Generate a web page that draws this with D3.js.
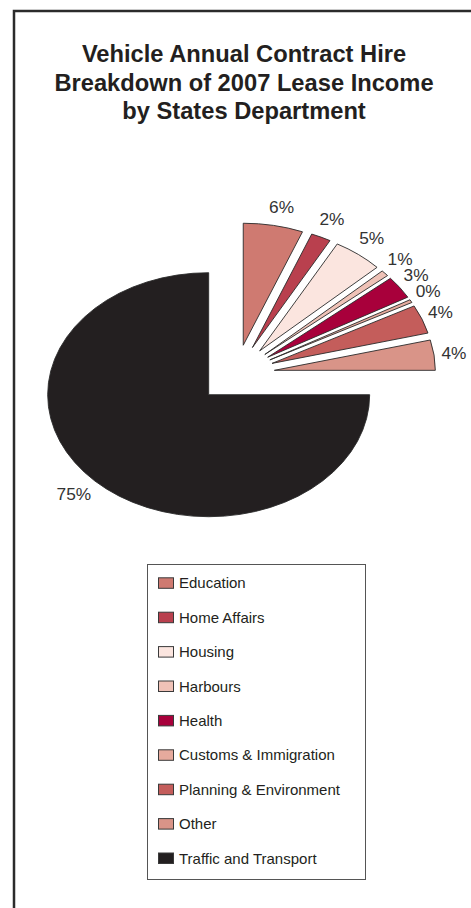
<!DOCTYPE html>
<html>
<head>
<meta charset="utf-8">
<script src="https://cdn.jsdelivr.net/npm/d3@7"></script>
<style>
  html, body { margin: 0; padding: 0; background: #fff; }
  svg { display: block; font-family: "Liberation Sans", Arial, Helvetica, sans-serif; }
</style>
</head>
<body>
<svg id="chart" width="471" height="908"></svg>
<script>
// ---- Data ----
const titleLines = ["Vehicle Annual Contract Hire", "Breakdown of 2007 Lease Income", "by States Department"];
const categories = ["Education", "Home Affairs", "Housing", "Harbours", "Health",
  "Customs & Immigration", "Planning & Environment", "Other", "Traffic and Transport"];
const values = [6.0, 2.0, 5.0, 0.8, 3.0, 0.4, 3.8, 4.0, 75.0];
const colors = ["#cf7a71", "#b9404e", "#fbe5df", "#efc2b7", "#a8003b",
  "#e6aa9d", "#c45d5b", "#d99488", "#231f20"];

// ---- Layout ----
const svg = d3.select("#chart");
const W = 471, H = 908;
const ink = "#231f20";

// frame (left and top rules)
svg.append("path")
  .attr("d", `M14,${H} L14,11 L${W},11`)
  .attr("fill", "none").attr("stroke", "#2b2b2b").attr("stroke-width", 2.5);

// title
const title = svg.append("text")
  .attr("x", 244).attr("y", 62)
  .attr("text-anchor", "middle")
  .attr("font-weight", "bold").attr("font-size", 23.7).attr("fill", ink);
titleLines.forEach((t, i) => title.append("tspan").attr("x", 244).attr("dy", i === 0 ? 0 : 28.5).text(t));

// pie
const cx = 236, cy = 374, rx = 161, ry = 122, R = 100, explode = 0.24;
const total = d3.sum(values);
const pie = d3.pie().sort(null).value(d => d)(values);
const arc = d3.arc().innerRadius(0).outerRadius(R);

const g = svg.append("g").attr("transform", `translate(${cx},${cy}) scale(${rx / R},${ry / R})`);
g.selectAll("path").data(pie).join("path")
  .attr("d", arc)
  .attr("transform", d => {
    const m = (d.startAngle + d.endAngle) / 2;
    return `translate(${Math.sin(m) * explode * R},${-Math.cos(m) * explode * R})`;
  })
  .attr("fill", (d, i) => colors[i])
  .attr("stroke", "#2a2a2a").attr("stroke-width", 0.9)
  .attr("vector-effect", "non-scaling-stroke")
  .attr("stroke-linejoin", "miter");

// labels
const fmt = v => Math.round(v / total * 100) + "%";
const labels = svg.append("g");
pie.forEach((d, i) => {
  const m = (d.startAngle + d.endAngle) / 2;
  const s = Math.sin(m), c = Math.cos(m);
  const px = cx + (1 + explode) * rx * s;
  const py = cy - (1 + explode) * ry * c;
  const t = labels.append("text")
    .attr("font-size", 17.3).attr("fill", "#333").attr("text-anchor", "middle")
    .text(fmt(d.value));
  const w = t.node().getComputedTextLength();
  const dx = s * 14.2 + Math.sign(s) * (w / 2 - 6.4) - (m < Math.PI / 2 ? 1.5 * Math.sin(2 * m) : 0);
  const dy = -c * 17.5 - (m < Math.PI / 2 ? 4 * Math.sin(2 * m) * c : 0);
  t.attr("x", px + dx).attr("y", py + dy + 6.2);
});

// legend
const lg = svg.append("g");
lg.append("rect").attr("x", 147.5).attr("y", 564.5).attr("width", 218).attr("height", 315)
  .attr("fill", "#fff").attr("stroke", "#555").attr("stroke-width", 1);
categories.forEach((name, i) => {
  const base = 588.3 + i * 34.4;
  lg.append("rect").attr("x", 158.5).attr("y", base - 10.5).attr("width", 15).attr("height", 10.5)
    .attr("fill", colors[i]).attr("stroke", "#3a3a3a").attr("stroke-width", 1);
  lg.append("text").attr("x", 179).attr("y", base)
    .attr("font-size", 15).attr("fill", ink).text(name);
});
</script>
</body>
</html>
